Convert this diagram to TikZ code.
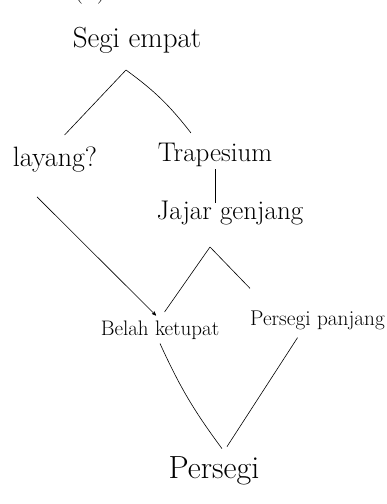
\documentclass[tikz,border=0pt]{standalone}
\usepackage{fontspec}
\usetikzlibrary{arrows}

\begin{document}
\begin{tikzpicture}[x=1pt,y=-1pt,
  bangun/.style={font=\fontsize{27}{31}\selectfont, inner sep=2pt},
  garis/.style={black, line width=0.6pt}]
\useasboundingbox (0,0) rectangle (387,504);
\clip (0,0) rectangle (387,504);
%label, cut off at the top
\node[bangun, anchor=base] (label) at (90,-3) {(b)};
%top:
\node[bangun, font=\fontsize{29}{33}\selectfont] (segi) at (137,40) {Segi empat};
\coordinate (cabang1) at (126,70);
%second row:
\node[bangun, font=\fontsize{28}{32}\selectfont] (layang) at (55,160) {layang?};
\node[bangun] (trapesium) at (215,155) {Trapesium};
\node[bangun] (jajar) at (230,213) {Jajar genjang};
\coordinate (cabang2) at (210,247);
%fourth row:
\node[bangun, font=\fontsize{21}{25}\selectfont] (belah) at (160,330) {Belah ketupat};
\node[bangun, font=\fontsize{21.3}{25}\selectfont, anchor=west] (pp) at (248,320) {Persegi panjang};
%bottom:
\node[bangun, font=\fontsize{32}{36}\selectfont] (persegi) at (214,471) {Persegi};
%connectors
\draw[garis, shorten >=14pt] (cabang1) -- (layang.north);
\draw[garis] (cabang1) to[bend left=8] ([xshift=-24pt,yshift=8pt]trapesium.north);
\draw[garis] (trapesium.south) -- ([yshift=-4pt]trapesium.south |- jajar.north);
\draw[garis, shorten >=8pt] (cabang2) -- (belah.north);
\draw[garis] (cabang2) -- ([xshift=2pt,yshift=20pt]pp.north west);
\draw[garis, -stealth'] ([xshift=-18pt,yshift=-22pt]layang.south) -- ([xshift=-4pt,yshift=3pt]belah.north);
\draw[garis] ([yshift=-2pt]belah.south) to[bend right=6] ([xshift=8pt,yshift=6pt]persegi.north);
\draw[garis] ([xshift=-20pt,yshift=-6pt]pp.south) -- ([xshift=13pt,yshift=8pt]persegi.north);
\end{tikzpicture}
\end{document}
